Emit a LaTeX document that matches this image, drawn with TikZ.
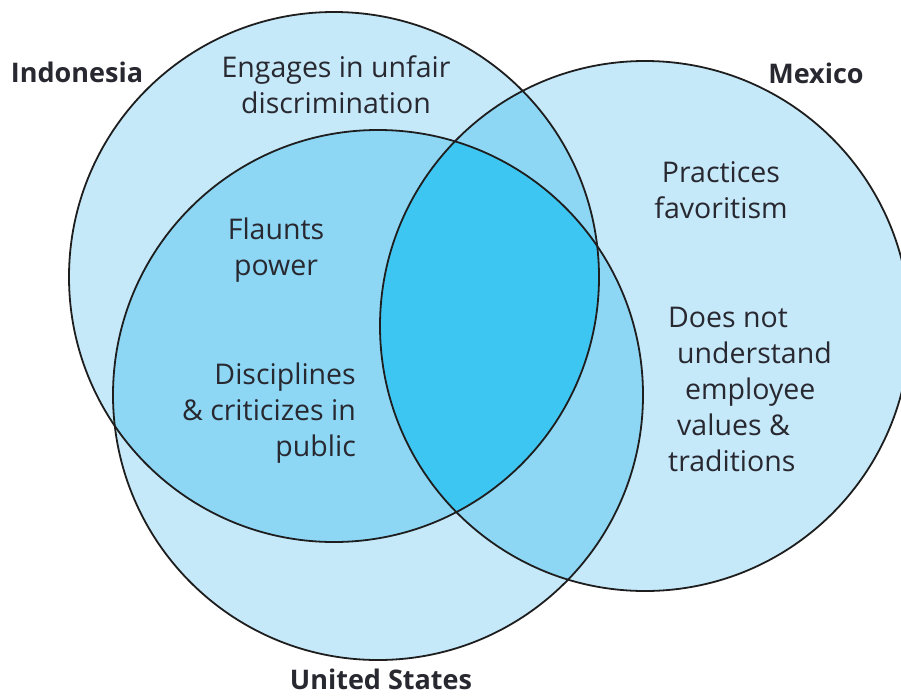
\documentclass[tikz,border=0pt]{standalone}
\usepackage{fontspec}
\setmainfont{Open Sans}
\definecolor{vennlight}{RGB}{198, 233, 250}
\definecolor{vennmid}{RGB}{141, 215, 245}
\definecolor{venndark}{RGB}{62, 198, 242}
\definecolor{vennline}{RGB}{30, 30, 30}
\definecolor{venntext}{RGB}{40, 40, 48}

\begin{document}
\begin{tikzpicture}[x=1pt, y=-1pt,
    ring/.style={draw=vennline, line width=1.8pt},
    item/.style={align=center, font=\fontsize{28.5}{36}\selectfont, text=venntext, inner sep=0pt},
    country/.style={font=\fontsize{27}{30}\selectfont\bfseries, text=venntext, inner sep=0pt}
]
\useasboundingbox (0,0) rectangle (901,696);
\clip (0,0) rectangle (901,696);
\def\vennr{265pt}

% Circle centres
\coordinate (ind) at (334,277);
\coordinate (usa) at (378,395);
\coordinate (mex) at (645,326);

% Single regions
\fill[vennlight] (ind) circle[radius=\vennr];
\fill[vennlight] (usa) circle[radius=\vennr];
\fill[vennlight] (mex) circle[radius=\vennr];

% Pairwise overlaps
\begin{scope}
  \clip (ind) circle[radius=\vennr];
  \fill[vennmid] (usa) circle[radius=\vennr];
  \fill[vennmid] (mex) circle[radius=\vennr];
\end{scope}
\begin{scope}
  \clip (usa) circle[radius=\vennr];
  \fill[vennmid] (mex) circle[radius=\vennr];
\end{scope}

% Triple overlap
\begin{scope}
  \clip (ind) circle[radius=\vennr];
  \clip (usa) circle[radius=\vennr];
  \fill[venndark] (mex) circle[radius=\vennr];
\end{scope}

% Outlines
\draw[ring] (ind) circle[radius=\vennr];
\draw[ring] (usa) circle[radius=\vennr];
\draw[ring] (mex) circle[radius=\vennr];

% Country labels
\node[country, anchor=base] (indonesia) at (77,82) {Indonesia};
\node[country, anchor=base] (mexico) at (816,83) {Mexico};
\node[country, anchor=base] (unitedstates) at (381,689) {United States};

% Behaviours
\node[item] (unfair) at (336,85) {Engages in unfair\\discrimination};
\node[item] (flaunts) at (276,250) {Flaunts\\power};
\node[item, align=right, anchor=east] (disciplines) at (356,413) {Disciplines\\\& criticizes in\\public};
\node[item] (favoritism) at (721,190) {Practices\\favoritism};
\node[item, align=left, anchor=west] (traditions) at (668,389) {Does not\\\hspace{9pt}understand\\\hspace{17pt}employee\\\hspace{9pt}values \&\\traditions};

\end{tikzpicture}
\end{document}
